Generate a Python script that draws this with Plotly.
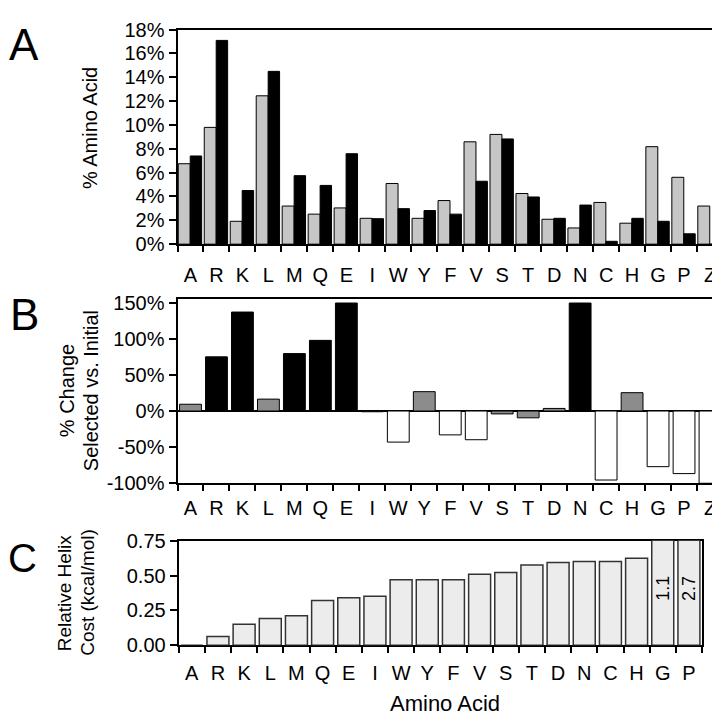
import plotly.graph_objects as go

# ---------------- data ----------------
aa_A = ["A", "R", "K", "L", "M", "Q", "E", "I", "W", "Y", "F", "V", "S", "T", "D", "N", "C", "H", "G", "P", "Z"]
initial_pct = [6.75, 9.8, 1.92, 12.45, 3.2, 2.52, 3.04, 2.17, 5.09, 2.17, 3.66, 8.59, 9.21, 4.25, 2.09, 1.36, 3.5, 1.76, 8.18, 5.61, 3.2]
selected_pct = [7.4, 17.1, 4.5, 14.5, 5.75, 4.93, 7.59, 2.14, 2.98, 2.82, 2.52, 5.28, 8.83, 3.96, 2.17, 3.28, 0.24, 2.17, 1.92, 0.87, 0.0]

pct_change = [9.4, 75, 137, 16.5, 79.5, 97.8, 149.5, -1, -43, 26.8, -33, -39.7, -4, -9.4, 3.6, 149.5, -95.5, 25.4, -77, -86.6, -100]

aa_C = ["A", "R", "K", "L", "M", "Q", "E", "I", "W", "Y", "F", "V", "S", "T", "D", "N", "C", "H", "G", "P"]
helix_cost = [0.0, 0.063, 0.151, 0.191, 0.212, 0.321, 0.34, 0.352, 0.47, 0.47, 0.47, 0.51, 0.522, 0.575, 0.594, 0.601, 0.601, 0.624, 1.1, 2.7]

A_ticks = [0, 2, 4, 6, 8, 10, 12, 14, 16, 18]
B_ticks = [-100, -50, 0, 50, 100, 150]
C_ticks = [0.0, 0.25, 0.50, 0.75]

# ---------------- style ----------------
FONT = "Liberation Sans, Arial, Helvetica, sans-serif"
W, H = 720, 716


def px_x(p):
    return p / W


def px_y(p):
    return 1 - p / H


def b_color(v):
    if v >= 50:
        return "#000000"
    if v <= -30:
        return "#ffffff"
    return "#8c8c8c"


C_MAX = 0.75

fig = go.Figure()

# Panel A
fig.add_trace(go.Bar(x=aa_A, y=initial_pct, xaxis="x", yaxis="y",
                     marker=dict(color="#c6c6c6", line=dict(color="#000", width=1)),
                     width=0.46, offset=-0.47, showlegend=False))
fig.add_trace(go.Bar(x=aa_A, y=selected_pct, xaxis="x", yaxis="y",
                     marker=dict(color="#000", line=dict(color="#000", width=1)),
                     width=0.44, offset=-0.01, showlegend=False))

# Panel B
fig.add_trace(go.Bar(x=aa_A, y=pct_change, xaxis="x2", yaxis="y2",
                     marker=dict(color=[b_color(v) for v in pct_change],
                                 line=dict(color="#000", width=1)),
                     width=0.84, showlegend=False))

# Panel C
fig.add_trace(go.Bar(x=aa_C, y=helix_cost, xaxis="x3", yaxis="y3",
                     marker=dict(color="#ececec", line=dict(color="#333", width=1.5)),
                     width=0.84, showlegend=False))

tickfont = dict(family=FONT, size=20, color="#000")
common_x = dict(type="category", showline=True, linewidth=2, linecolor="#000", mirror=True,
                ticks="outside", ticklen=6, tickwidth=1.5, tickcolor="#000",
                tickson="boundaries", tickfont=tickfont, tickangle=0, showgrid=False,
                zeroline=False, fixedrange=True)
common_y = dict(showline=True, linewidth=2, linecolor="#000", mirror=True,
                ticks="outside", ticklen=7, tickwidth=1.5, tickcolor="#000",
                tickfont=tickfont, showgrid=False, fixedrange=True)

fig.update_layout(
    width=W, height=H, margin=dict(l=0, r=0, t=0, b=0),
    paper_bgcolor="#fff", plot_bgcolor="#fff",
    barmode="overlay", showlegend=False,
    font=dict(family=FONT, color="#000"),
    xaxis=dict(common_x, domain=[px_x(169.5), px_x(715)], anchor="y", ticklabelstandoff=12),
    yaxis=dict(common_y, domain=[px_y(232.3), px_y(11)], anchor="x", range=[0, 18],
               tickvals=A_ticks, ticktext=[f"{v}%" for v in A_ticks], zeroline=False),
    xaxis2=dict(common_x, domain=[px_x(169.5), px_x(715)], anchor="y2", ticklabelstandoff=6),
    yaxis2=dict(common_y, domain=[px_y(479), px_y(289.3)], anchor="x2", range=[-100, 154.5],
                tickvals=B_ticks, ticktext=[f"{v}%" for v in B_ticks],
                zeroline=True, zerolinecolor="#000", zerolinewidth=1.5),
    xaxis3=dict(common_x, domain=[px_x(170.7), px_x(694)], anchor="y3", ticklabelstandoff=9,
                layer="below traces"),
    yaxis3=dict(common_y, domain=[px_y(646), px_y(538.3)], anchor="x3", range=[0, C_MAX],
                tickvals=C_ticks, ticktext=[f"{v:.2f}" for v in C_ticks], zeroline=False,
                layer="below traces"),
)

ann = []
# panel letters
ann.append(dict(text="A", x=px_x(16), y=px_y(26), font=dict(size=44)))
ann.append(dict(text="B", x=px_x(16.5), y=px_y(305), font=dict(size=44)))
ann.append(dict(text="C", x=px_x(14), y=px_y(556), font=dict(size=40)))
# y titles
ann.append(dict(text="% Amino Acid", x=px_x(82), y=px_y(112.5), textangle=-90, font=dict(size=20)))
ann.append(dict(text="% Change", x=px_x(59), y=px_y(384), textangle=-90, font=dict(size=20)))
ann.append(dict(text="Selected vs. Initial", x=px_x(83), y=px_y(384), textangle=-90, font=dict(size=20)))
ann.append(dict(text="Relative Helix", x=px_x(56.5), y=px_y(592), textangle=-90, font=dict(size=19)))
ann.append(dict(text="Cost (kcal/mol)", x=px_x(80), y=px_y(592), textangle=-90, font=dict(size=19)))
# x title
ann.append(dict(text="Amino Acid", x=px_x(437), y=px_y(706), font=dict(size=22)))

annotations = []
for a in ann:
    d = dict(xref="paper", yref="paper", showarrow=False, xanchor="center", yanchor="middle")
    d.update(a)
    d["font"] = dict(family=FONT, color="#000", **a.get("font", {}))
    annotations.append(d)

# off-scale value labels in panel C
for name, v in zip(aa_C, helix_cost):
    if v > C_MAX:
        annotations.append(dict(xref="x3", yref="y3", x=name, y=0.41, text=f"{v:.1f}",
                                showarrow=False, textangle=-90,
                                font=dict(family=FONT, size=18, color="#000")))

fig.update_layout(annotations=annotations)

fig.write_html("out.html")
